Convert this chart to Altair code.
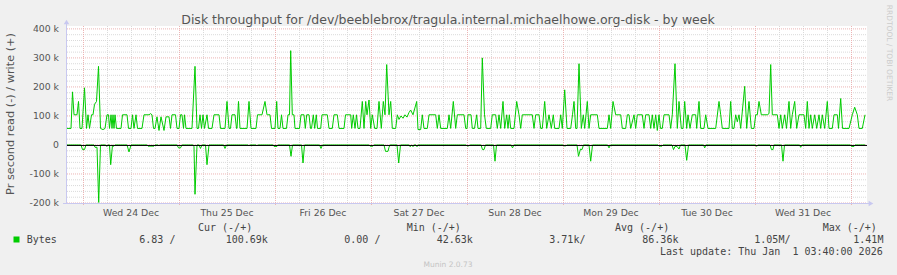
import altair as alt
import pandas as pd

# x: quarter-hour steps since Tue 23 Dec 2025 20:00 (800 steps shown)
write_t = [0, 4, 5.5, 7, 10, 11.5, 13, 15, 17.5, 19.5, 21, 22.5, 24.5, 26, 27.5, 29.5, 31.5, 33.5, 36, 38,
           40, 41.5, 42.5, 44, 45, 46, 47, 48, 49.5, 54, 55.5, 60, 61.5, 64, 65.5, 67, 69, 70.5, 75, 77,
           82, 83.5, 85, 86.5, 88, 90, 92, 94, 97, 99, 102, 103.5, 105, 108.5, 110, 112, 113.5, 115, 116.5, 117.5,
           119, 125, 128, 130, 131.5, 133, 134.5, 136, 137.5, 140, 141.5, 145, 147, 152, 153.5, 158, 160, 162, 163.5, 165,
           168, 169.5, 170, 171.5, 173, 180, 182, 184, 189, 190.5, 195, 198, 200,
           200.5, 203, 204.5, 208, 209.7, 211, 213, 214.5, 216, 219.5, 221, 222.5, 223.7, 225.3, 227, 228, 232.5, 234,
           237, 238.3, 239.7, 242, 243.5, 244.5, 246.3, 247.7, 249.3, 250.5, 253.7, 255, 260.3, 262, 265.3, 267, 270.3,
           272, 277, 278.5, 283.7, 284.7, 286.3, 288, 289.5, 291, 293, 295.3, 297, 298.7, 300, 302, 303.7, 305.3,
           307.7, 310, 312, 314.3, 316.3, 318, 319.7, 322, 323.7, 325.3, 328.7, 330.3, 332, 334, 336, 338, 340, 342,
           343.7, 346, 349.7, 351, 353.7, 355.3, 357, 360.3, 362, 368.7, 370.3, 372, 373.7, 380.3, 382, 383.7, 386.3,
           388.7, 390.3, 397, 398.7, 400,
           401, 404, 405.3, 407.5, 409.7, 411, 413.7, 415.3, 417.5, 419.3, 423.7, 425.3, 428.7, 430.3, 432, 433.7,
           436, 437.7, 439.7, 441, 442.3, 443.7, 447, 449.7, 452, 453.7, 455.3, 465.3, 467, 468.7, 472, 473.7, 475.3,
           477.7, 479.7, 482, 484.3, 486.3, 487.7, 492, 493.7, 495.3, 497.7, 500, 503.7, 505.5, 507, 508.7, 510, 512,
           514.3, 516.3, 517.7, 520.3, 522, 523.7, 530.3, 532, 540.3, 542, 543.7, 546, 548.7, 553.7, 555.3, 558.7,
           560.3, 562, 563.7, 567, 568.7, 570.3, 575.3, 577, 578.7, 582, 583.7, 585.3, 587, 588.7, 590.3, 592, 593.5,
           595.3, 597,
           602, 603.7, 605.3, 608, 610.3, 612, 614.3, 616, 617.7, 619.7, 621, 623, 625.3, 628.7, 629.7, 632, 633.7,
           637, 638.7, 641, 648.7, 652, 653.7, 655.3, 662, 663.7, 665.3, 667, 668.7, 670.3, 672, 673.7, 677.7, 679.7,
           682, 684.3, 687, 688.7, 690.3, 692, 694.3, 700.3, 702, 703.7, 705.3, 710.3, 712, 713.7, 715.3, 717.7, 719.5,
           722, 723.7, 725.3, 727.7, 729.7, 732, 737, 738.7, 740.3, 742, 743.7, 745.3, 747.7, 749.7, 752, 753.7, 755.3,
           757.7, 760.3, 762, 765.3, 767, 770.3, 771.5, 773.7, 775.5, 782, 785.3, 787.7, 790.3, 792, 795.3, 798]
write_k = [57, 57, 183, 104, 104, 150, 57, 57, 197, 57, 104, 57, 104, 104, 140, 150, 271, 57, 53, 57,
           104, 104, 57, 104, 57, 104, 57, 104, 57, 57, 104, 104, 57, 57, 104, 57, 104, 57, 57, 104,
           104, 108, 104, 57, 57, 97, 50, 97, 50, 97, 97, 57, 104, 104, 57, 57, 104, 104, 57, 104,
           57, 57, 271, 57, 57, 104, 57, 104, 57, 104, 57, 57, 104, 104, 57, 57, 150, 57, 57, 104,
           104, 57, 57, 150, 57, 57, 150, 57, 57, 104, 104, 150, 104,
           104, 104, 57, 57, 150, 57, 57, 104, 57, 57, 104, 104, 325, 104, 104, 57, 57, 104,
           104, 57, 104, 104, 57, 57, 104, 57, 104, 57, 57, 104, 104, 57, 57, 104, 104,
           57, 57, 104, 104, 57, 104, 57, 104, 57, 57, 150, 57, 150, 104, 155, 57, 104,
           57, 57, 150, 57, 150, 104, 277, 104, 150, 57, 57, 104, 88, 100, 92, 104, 96, 112,
           120, 104, 150, 53, 53, 104, 57, 57, 104, 104, 57, 104, 57, 57, 104, 57, 150,
           57, 104, 104, 57, 57,
           104, 104, 57, 57, 104, 57, 57, 300, 104, 57, 57, 104, 104, 57, 104, 57,
           150, 57, 104, 57, 104, 57, 57, 150, 104, 57, 104, 104, 57, 104, 104, 57, 57,
           150, 57, 104, 57, 104, 57, 57, 104, 57, 190, 57, 57, 104, 150, 57, 57, 280,
           57, 104, 57, 150, 57, 104, 104, 57, 57, 104, 57, 150, 104, 104, 57, 57,
           104, 104, 57, 104, 57, 104, 104, 57, 104, 104, 57, 104, 57, 104, 50, 104, 57,
           57, 104,
           104, 57, 104, 280, 57, 150, 57, 57, 150, 57, 104, 57, 104, 104, 57, 150, 57,
           57, 104, 57, 57, 150, 104, 57, 57, 150, 57, 57, 104, 80, 104, 57, 202, 57,
           150, 57, 57, 104, 104, 150, 104, 104, 108, 277, 104, 104, 57, 104, 57, 104, 57,
           150, 57, 104, 150, 57, 104, 104, 57, 150, 57, 104, 57, 104, 57, 104, 57, 104,
           57, 150, 57, 57, 104, 104, 57, 160, 57, 57, 104, 130, 104, 57, 57, 104]

read_t = [0, 14, 15.5, 17.5, 19, 27, 28, 30, 31.7, 33.5, 38.5, 39.7, 41, 42.5, 43.7, 45.5, 46.5, 48, 60, 62, 64,
          80, 81, 87, 88, 91, 92, 93, 110, 111.5, 113.5, 115, 126, 127, 128, 130, 132, 133.5, 135, 138.5, 140, 142,
          156.5, 158, 159.5, 181, 182, 183, 189, 190, 191, 206, 207, 210, 211, 222.5, 224, 225.5, 234.5, 236, 237.5,
          252.5, 254, 255.5, 302, 303, 306, 307, 317, 318.5, 321, 322, 323, 330, 331.7, 333.5, 342, 343, 345, 346,
          347, 349, 350, 351, 399, 400, 402, 403, 414, 415.5, 417, 418.5, 426.5, 428, 429.5, 444, 445.5, 447, 496,
          497, 499, 500, 510, 511.5, 513.5, 515, 516.5, 522, 523.7, 525.5, 540.5, 542, 543.5, 591, 592, 595, 596,
          605, 606.5, 608, 610, 612, 613.5, 618, 619.7, 621.5, 636.5, 637.7, 639, 688.5, 689.7, 691, 703, 704.5,
          706, 707, 714.5, 716, 717.5, 732.5, 733.7, 735, 783.5, 784.5, 787, 788, 798]
read_k = [0, 0, -16, -16, 0, 0, -8, -8, -198, 0, 0, -5, 0, 0, -68, 0, -5, 0, 0, -24, 0,
          0, -4, -4, 0, 0, -3, 0, 0, -10, -10, 0, 0, -6, -170, 0, 0, -12, 0, 0, -68, 0,
          0, -12, 0, 0, -3, 0, 0, -3, 0, 0, -5, -5, 0, 0, -39, 0, 0, -62, 0,
          0, -12, 0, 0, -4, -4, 0, 0, -22, -22, -8, 0, 0, -62, 0, 0, -6, 0, -6,
          0, 0, -6, 0, 0, -3, -3, 0, 0, -16, -16, 0, 0, -56, 0, 0, -10, 0, 0,
          -3, -3, 0, 0, -39, -14, -16, 0, 0, -56, 0, 0, -10, 0, 0, -4, -4, 0,
          0, -16, -5, -5, -14, 0, 0, -53, 0, 0, -10, 0, 0, -5, 0, 0, -16,
          -16, 0, 0, -56, 0, 0, -8, 0, 0, -5, -5, 0, 0]

day_labels = ["Wed 24 Dec", "Thu 25 Dec", "Fri 26 Dec", "Sat 27 Dec", "Sun 28 Dec",
              "Mon 29 Dec", "Tue 30 Dec", "Wed 31 Dec"]
day_noon_t = [64, 160, 256, 352, 448, 544, 640, 736]
midnight_t = [16, 112, 208, 304, 400, 496, 592, 688, 784]
six_hour_t = [40, 64, 88, 136, 160, 184, 232, 256, 280, 328, 352, 376, 424, 448, 472,
              520, 544, 568, 616, 640, 664, 712, 736, 760]
y_major = [-200000, -100000, 0, 100000, 200000, 300000, 400000]
y_major_labels = ["-200 k", "-100 k", "0", "100 k", "200 k", "300 k", "400 k"]
y_minor = [-180000, -160000, -140000, -120000, -80000, -60000, -40000, -20000,
           20000, 40000, 60000, 80000, 120000, 140000, 160000, 180000,
           220000, 240000, 260000, 280000, 320000, 340000, 360000, 380000]

legend_headers = ["Cur (-/+)", "Min (-/+)", "Avg (-/+)", "Max (-/+)"]
legend_series = "Bytes"
legend_values = ["6.83 /", "100.69k", "0.00 /", "42.63k", "3.71k/", "86.36k", "1.05M/", "1.41M"]
last_update = "Last update: Thu Jan \u00a01 03:40:00 2026"
title_text = "Disk throughput for /dev/beeblebrox/tragula.internal.michaelhowe.org-disk - by week"
ylabel_text = "Pr second read (-) / write (+)"
side_text = "RRDTOOL / TOBI OETIKER"
footer_text = "Munin 2.0.73"

W, H = 800, 177
XS = alt.Scale(domain=[0, 800], nice=False, zero=False)
YS = alt.Scale(domain=[-200000, 410000], nice=False, zero=False)
SANS = "DejaVu Sans"
MONO = "DejaVu Sans Mono"
GREEN = "#00CC00"
MINOR = "#dadada"
MAJOR = "#ecb4b4"

wdf = pd.DataFrame({"t": write_t, "v": [k * 1000 for k in write_k]})
rdf = pd.DataFrame({"t": read_t, "v": [k * 1000 for k in read_k]})
one = pd.DataFrame({"a": [0]})


def X(f="t"):
    return alt.X(f"{f}:Q", scale=XS, axis=None)


def Y(f="v"):
    return alt.Y(f"{f}:Q", scale=YS, axis=None)


hminor = alt.Chart(pd.DataFrame({"v": y_minor})).mark_rule(
    color=MINOR, strokeDash=[1, 1], strokeWidth=1).encode(
    y=Y(), x=alt.value(0), x2=alt.value(W))
hmajor = alt.Chart(pd.DataFrame({"v": y_major})).mark_rule(
    color=MAJOR, strokeDash=[1, 1], strokeWidth=1).encode(
    y=Y(), x=alt.value(0), x2=alt.value(W))
vminor = alt.Chart(pd.DataFrame({"t": six_hour_t})).mark_rule(
    color=MINOR, strokeDash=[1, 1], strokeWidth=1, xOffset=0.5).encode(
    x=X(), y=alt.value(0), y2=alt.value(H))
vmajor = alt.Chart(pd.DataFrame({"t": midnight_t})).mark_rule(
    color=MAJOR, strokeDash=[1, 1], strokeWidth=1, xOffset=0.5).encode(
    x=X(), y=alt.value(0), y2=alt.value(H + 3))

AX = "#c8c8f0"
left_axis = alt.Chart(one).mark_rule(color=AX, strokeWidth=1).encode(
    x=alt.value(-0.5), y=alt.value(H), y2=alt.value(-3))
bottom_axis = alt.Chart(one).mark_rule(color=AX, strokeWidth=1).encode(
    y=alt.value(H + 0.5), x=alt.value(-4), x2=alt.value(W + 2))
up_arrow = alt.Chart(one).mark_point(shape="triangle-up", filled=True, color=AX,
                                     size=30, opacity=1).encode(
    x=alt.value(-0.5), y=alt.value(-4))
right_arrow = alt.Chart(one).mark_point(shape="triangle-right", filled=True, color=AX,
                                        size=30, opacity=1).encode(
    x=alt.value(W + 4), y=alt.value(H + 0.5))

wline = alt.Chart(wdf).mark_line(color=GREEN, strokeWidth=1, interpolate="linear").encode(
    x=X(), y=Y())
rline = alt.Chart(rdf).mark_line(color=GREEN, strokeWidth=1, interpolate="linear").encode(
    x=X(), y=Y())
zero_line = alt.Chart(pd.DataFrame({"v": [0]})).mark_rule(
    color="#000000", strokeWidth=1, yOffset=0.5).encode(
    y=Y(), x=alt.value(0), x2=alt.value(W))

ylabels = alt.Chart(pd.DataFrame({"v": y_major, "lab": y_major_labels})).mark_text(
    align="right", baseline="middle", font=SANS, fontSize=9.3, color="#555555").encode(
    y=Y(), x=alt.value(-8), text="lab:N")
xlabels = alt.Chart(pd.DataFrame({"t": day_noon_t, "lab": day_labels})).mark_text(
    align="center", baseline="alphabetic", font=SANS, fontSize=9.3, color="#555555").encode(
    x=X(), y=alt.value(190), text="lab:N")


def txt(s, x, y, font=SANS, size=10, color="#444444", align="left", angle=0, baseline="alphabetic"):
    return alt.Chart(one).mark_text(text=s, font=font, fontSize=size, color=color, align=align,
                                    angle=angle, baseline=baseline).encode(
        x=alt.value(x), y=alt.value(y))


texts = [
    txt(title_text, 381, -1.7, size=12.5, color="#555555", align="center"),
    txt(ylabel_text, -56, 88, size=11.3, color="#555555", align="center", angle=270, baseline="middle"),
    txt(side_text, 822, 27, size=7.5, color="#cccccc", align="center", angle=90, baseline="middle"),
    txt(footer_text, 381, 240.7, size=7.5, color="#c4c4c4", align="center"),
]
hx = [131, 339.7, 548, 755.7]
for s, x in zip(legend_headers, hx):
    texts.append(txt(s, x, 205, font=MONO))
texts.append(txt(legend_series, -40.3, 217, font=MONO))
vx = [72.3, 158.7, 277.3, 369.7, 482.3, 575.3, 687.3, 786.3]
for s, x in zip(legend_values, vx):
    texts.append(txt(s, x, 217, font=MONO))
texts.append(txt(last_update, 815.7, 228.5, font=MONO, align="right"))
swatch = alt.Chart(one).mark_square(color=GREEN, size=36, opacity=1).encode(
    x=alt.value(-50.5), y=alt.value(213.5))

chart = alt.layer(
    hminor, vminor, hmajor, vmajor, left_axis, bottom_axis, up_arrow, right_arrow,
    rline, wline, zero_line, ylabels, xlabels, swatch, *texts
).properties(
    width=W, height=H,
    autosize=alt.AutoSizeParams(type="none"),
    padding={"left": 67, "top": 26, "right": 30, "bottom": 72},
    background="#F0F0F0",
).configure_view(fill="#FFFFFF", stroke=None)

chart.save("out.html", embed_options={"renderer": "svg", "actions": False})
